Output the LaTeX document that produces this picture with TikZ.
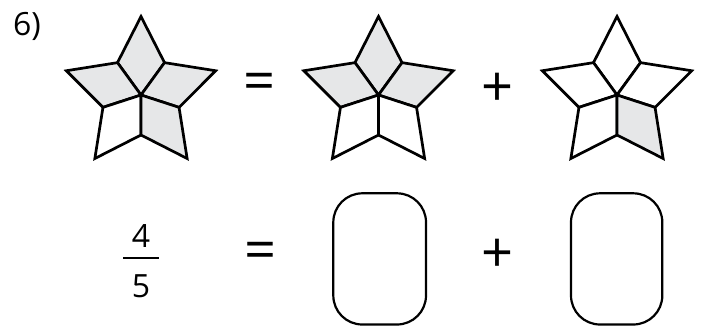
\documentclass[tikz,border=0pt]{standalone}
\usepackage{fontspec}
\setmainfont{Open Sans}
\definecolor{piece}{HTML}{E6E7E8}
\tikzset{
  kite/.style={draw=black, line width=2.7pt, line join=miter, miter limit=10},
  shaded/.style={kite, fill=piece},
  plain/.style={kite, fill=white},
  blank/.style={draw=black, line width=2.2pt, rounded corners=29pt},
  num/.style={inner sep=0pt, font=\fontsize{32}{32}\selectfont},
  op/.style={inner sep=0pt, font=\fontsize{56}{56}\selectfont}
}
\newcommand{\kitepiece}[2]{%
  \path[#2] (0,0) -- (#1+36:40) -- (#1:78.5) -- (#1-36:40) -- cycle;}
\begin{document}
\begin{tikzpicture}[x=1pt,y=-1pt]
\useasboundingbox (0,0) rectangle (704,325);
\clip (0,0) rectangle (704,325);
% label
\node[num] (lbl) at (27,26) {6)};
% star 1
\begin{scope}[shift={(141,95)}, yscale=-1]
  \kitepiece{90}{shaded}
  \kitepiece{162}{shaded}
  \kitepiece{18}{shaded}
  \kitepiece{234}{plain}
  \kitepiece{306}{shaded}
\end{scope}
% star 2
\begin{scope}[shift={(378.5,95)}, yscale=-1]
  \kitepiece{90}{shaded}
  \kitepiece{162}{shaded}
  \kitepiece{18}{shaded}
  \kitepiece{234}{plain}
  \kitepiece{306}{plain}
\end{scope}
% star 3
\begin{scope}[shift={(617,95)}, yscale=-1]
  \kitepiece{90}{plain}
  \kitepiece{162}{plain}
  \kitepiece{18}{plain}
  \kitepiece{234}{plain}
  \kitepiece{306}{shaded}
\end{scope}
\node[op] (eq1) at (260,87) {=};
\node[op] (pl1) at (497.5,89.5) {+};
% bottom row
\node[num] (n4) at (141,236) {4};
\node[num] (n5) at (141,286) {5};
\draw[line width=2.2pt] (123.3,258.3) -- (159.3,258.3);
\node[op] (eq2) at (260.5,256) {=};
\node[op] (pl2) at (497.5,256) {+};
\draw[blank] (333.3,193.3) rectangle (426,324.5);
\draw[blank] (571,193.3) rectangle (662.3,324.5);
\end{tikzpicture}
\end{document}
